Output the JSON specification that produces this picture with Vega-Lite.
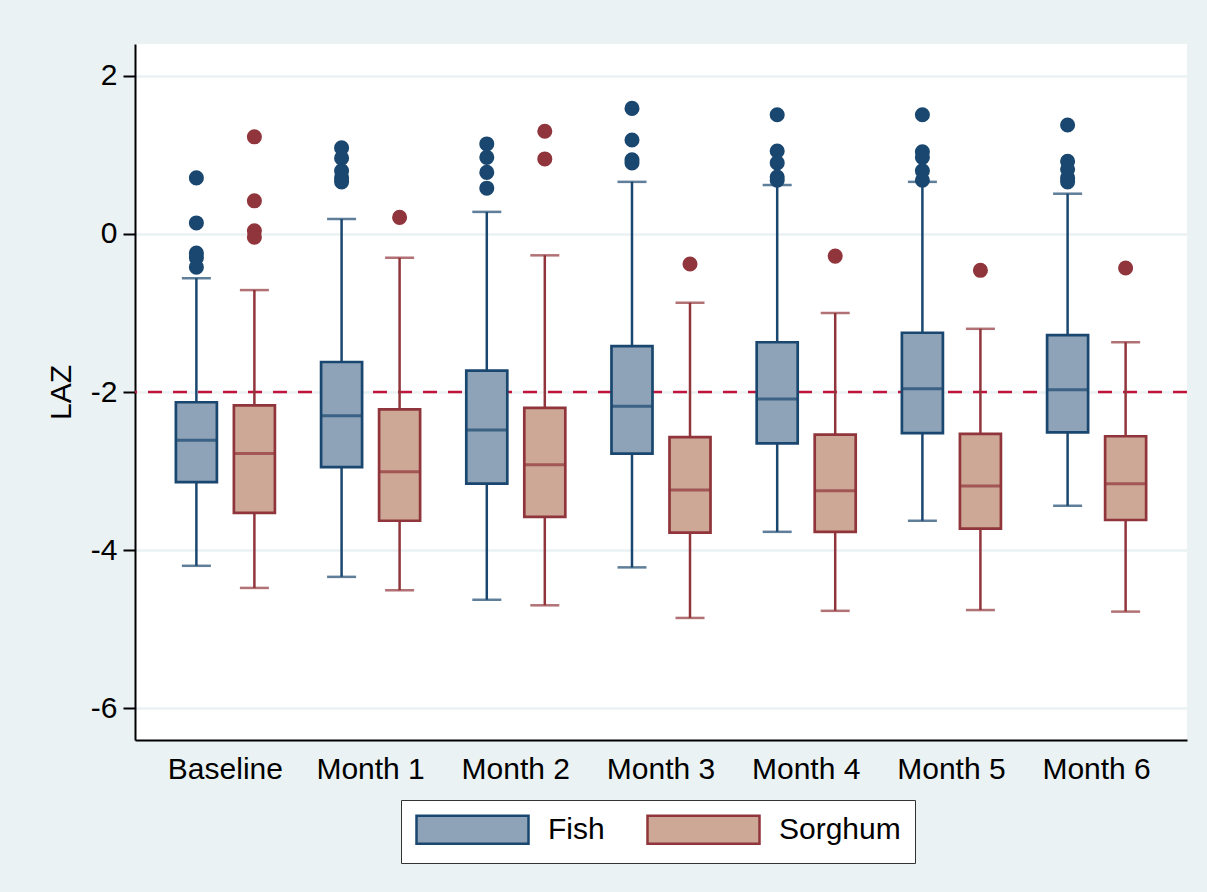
{
  "$schema": "https://vega.github.io/schema/vega-lite/v6.json",
  "width": 1052,
  "height": 696,
  "autosize": {"type": "none"},
  "padding": {"left": 135, "top": 44, "right": 20, "bottom": 152},
  "background": "#EAF2F3",
  "config": {
    "font": "Liberation Sans",
    "view": {"fill": "white", "stroke": null}
  },
  "datasets": {
    "boxes": [
      {"time": "Baseline", "group": "Fish", "lower": -4.20, "q1": -3.14, "median": -2.61, "q3": -2.13, "upper": -0.56},
      {"time": "Baseline", "group": "Sorghum", "lower": -4.48, "q1": -3.53, "median": -2.78, "q3": -2.17, "upper": -0.71},
      {"time": "Month 1", "group": "Fish", "lower": -4.34, "q1": -2.95, "median": -2.30, "q3": -1.62, "upper": 0.19},
      {"time": "Month 1", "group": "Sorghum", "lower": -4.51, "q1": -3.63, "median": -3.01, "q3": -2.22, "upper": -0.30},
      {"time": "Month 2", "group": "Fish", "lower": -4.63, "q1": -3.16, "median": -2.48, "q3": -1.73, "upper": 0.28},
      {"time": "Month 2", "group": "Sorghum", "lower": -4.70, "q1": -3.58, "median": -2.92, "q3": -2.20, "upper": -0.27},
      {"time": "Month 3", "group": "Fish", "lower": -4.22, "q1": -2.78, "median": -2.18, "q3": -1.42, "upper": 0.66},
      {"time": "Month 3", "group": "Sorghum", "lower": -4.86, "q1": -3.78, "median": -3.24, "q3": -2.57, "upper": -0.87},
      {"time": "Month 4", "group": "Fish", "lower": -3.77, "q1": -2.65, "median": -2.09, "q3": -1.37, "upper": 0.62},
      {"time": "Month 4", "group": "Sorghum", "lower": -4.77, "q1": -3.77, "median": -3.25, "q3": -2.54, "upper": -1.00},
      {"time": "Month 5", "group": "Fish", "lower": -3.63, "q1": -2.52, "median": -1.96, "q3": -1.25, "upper": 0.66},
      {"time": "Month 5", "group": "Sorghum", "lower": -4.76, "q1": -3.73, "median": -3.19, "q3": -2.53, "upper": -1.20},
      {"time": "Month 6", "group": "Fish", "lower": -3.44, "q1": -2.51, "median": -1.97, "q3": -1.28, "upper": 0.51},
      {"time": "Month 6", "group": "Sorghum", "lower": -4.78, "q1": -3.62, "median": -3.16, "q3": -2.56, "upper": -1.37}
    ],
    "outliers": [
      {"time": "Baseline", "group": "Fish", "value": 0.71},
      {"time": "Baseline", "group": "Fish", "value": 0.14},
      {"time": "Baseline", "group": "Fish", "value": -0.24},
      {"time": "Baseline", "group": "Fish", "value": -0.30},
      {"time": "Baseline", "group": "Fish", "value": -0.42},
      {"time": "Baseline", "group": "Sorghum", "value": 1.23},
      {"time": "Baseline", "group": "Sorghum", "value": 0.42},
      {"time": "Baseline", "group": "Sorghum", "value": 0.04},
      {"time": "Baseline", "group": "Sorghum", "value": -0.04},
      {"time": "Month 1", "group": "Fish", "value": 1.09},
      {"time": "Month 1", "group": "Fish", "value": 0.96},
      {"time": "Month 1", "group": "Fish", "value": 0.80},
      {"time": "Month 1", "group": "Fish", "value": 0.71},
      {"time": "Month 1", "group": "Fish", "value": 0.66},
      {"time": "Month 1", "group": "Sorghum", "value": 0.21},
      {"time": "Month 2", "group": "Fish", "value": 1.14},
      {"time": "Month 2", "group": "Fish", "value": 0.97},
      {"time": "Month 2", "group": "Fish", "value": 0.78},
      {"time": "Month 2", "group": "Fish", "value": 0.58},
      {"time": "Month 2", "group": "Sorghum", "value": 1.30},
      {"time": "Month 2", "group": "Sorghum", "value": 0.95},
      {"time": "Month 3", "group": "Fish", "value": 1.59},
      {"time": "Month 3", "group": "Fish", "value": 1.19},
      {"time": "Month 3", "group": "Fish", "value": 0.94},
      {"time": "Month 3", "group": "Fish", "value": 0.90},
      {"time": "Month 3", "group": "Sorghum", "value": -0.38},
      {"time": "Month 4", "group": "Fish", "value": 1.51},
      {"time": "Month 4", "group": "Fish", "value": 1.05},
      {"time": "Month 4", "group": "Fish", "value": 0.90},
      {"time": "Month 4", "group": "Fish", "value": 0.72},
      {"time": "Month 4", "group": "Fish", "value": 0.68},
      {"time": "Month 4", "group": "Sorghum", "value": -0.28},
      {"time": "Month 5", "group": "Fish", "value": 1.51},
      {"time": "Month 5", "group": "Fish", "value": 1.04},
      {"time": "Month 5", "group": "Fish", "value": 0.97},
      {"time": "Month 5", "group": "Fish", "value": 0.80},
      {"time": "Month 5", "group": "Fish", "value": 0.68},
      {"time": "Month 5", "group": "Sorghum", "value": -0.46},
      {"time": "Month 6", "group": "Fish", "value": 1.38},
      {"time": "Month 6", "group": "Fish", "value": 0.92},
      {"time": "Month 6", "group": "Fish", "value": 0.82},
      {"time": "Month 6", "group": "Fish", "value": 0.71},
      {"time": "Month 6", "group": "Fish", "value": 0.66},
      {"time": "Month 6", "group": "Sorghum", "value": -0.43}
    ]
  },
  "encoding": {
    "x": {
      "field": "time", "type": "nominal",
      "sort": ["Baseline", "Month 1", "Month 2", "Month 3", "Month 4", "Month 5", "Month 6"],
      "scale": {"paddingInner": 0, "paddingOuter": 0.1225},
      "axis": {
        "title": null, "labelAngle": 0, "ticks": false,
        "domainColor": "black", "domainWidth": 2,
        "labelFontSize": 30, "labelColor": "black", "labelPadding": 14
      }
    },
    "xOffset": {
      "field": "group", "type": "nominal",
      "scale": {"domain": ["Fish", "Sorghum"], "paddingInner": 0.293, "paddingOuter": 0.398}
    }
  },
  "layer": [
    {
      "data": {"values": [{"ref": -2}]},
      "mark": {"type": "rule", "color": "#C0143C", "strokeWidth": 2.5, "strokeDash": [14, 11]},
      "encoding": {
        "x": null, "xOffset": null,
        "y": {
          "field": "ref", "type": "quantitative",
          "scale": {"domain": [-6.405, 2.405], "nice": false, "zero": false},
          "axis": {
            "title": "LAZ", "titleFontSize": 30, "titleFontWeight": "normal", "titleColor": "black", "titlePadding": 14,
            "values": [-6, -4, -2, 0, 2], "labelExpr": "'' + datum.value",
            "labelFontSize": 30, "labelColor": "black", "labelPadding": 6,
            "tickSize": 12, "tickColor": "black", "tickWidth": 2, "domainColor": "black", "domainWidth": 2,
            "grid": true, "gridColor": "#EAF2F3", "gridWidth": 2.5
          }
        }
      }
    },
    {
      "data": {"name": "boxes"},
      "mark": {"type": "rule", "strokeWidth": 2.5},
      "encoding": {
        "y": {"field": "lower", "type": "quantitative"},
        "y2": {"field": "upper"},
        "color": {"field": "group", "type": "nominal", "scale": {"range": ["#1A476F", "#90353B"]}, "legend": null}
      }
    },
    {
      "data": {"name": "boxes"},
      "mark": {"type": "tick", "size": 29, "thickness": 2.5},
      "encoding": {
        "y": {"field": "lower", "type": "quantitative"},
        "color": {"field": "group", "type": "nominal", "legend": null}
      }
    },
    {
      "data": {"name": "boxes"},
      "mark": {"type": "tick", "size": 29, "thickness": 2.5},
      "encoding": {
        "y": {"field": "upper", "type": "quantitative"},
        "color": {"field": "group", "type": "nominal", "legend": null}
      }
    },
    {
      "data": {"name": "boxes"},
      "mark": {"type": "bar", "strokeWidth": 2.7},
      "encoding": {
        "y": {"field": "q1", "type": "quantitative"},
        "y2": {"field": "q3"},
        "fill": {
          "field": "group", "type": "nominal",
          "scale": {"domain": ["Fish", "Sorghum"], "range": ["#8EA3B7", "#CEA896"]},
          "legend": {
            "title": null, "orient": "none", "legendX": 266, "legendY": 756, "direction": "horizontal",
            "fillColor": "white", "strokeColor": "#333333", "padding": 14,
            "labelFontSize": 30, "labelColor": "black", "labelOffset": 102, "columnPadding": 37,
            "symbolType": "M-1,-1H7V1H-1Z", "symbolSize": 784, "symbolStrokeWidth": 2.5,
            "symbolOpacity": 1,
            "encode": {
              "symbols": {"update": {"stroke": {"scale": "stroke", "field": "value"}, "strokeWidth": {"value": 2.5}, "fillOpacity": {"value": 1}}}
            }
          }
        },
        "stroke": {
          "field": "group", "type": "nominal",
          "scale": {"range": ["#1A476F", "#90353B"]},
          "legend": null
        }
      }
    },
    {
      "data": {"name": "boxes"},
      "mark": {"type": "tick", "size": 41, "thickness": 3},
      "encoding": {
        "y": {"field": "median", "type": "quantitative"},
        "color": {"field": "group", "type": "nominal", "legend": null}
      }
    },
    {
      "data": {"name": "outliers"},
      "mark": {"type": "circle", "size": 227, "opacity": 1},
      "encoding": {
        "y": {"field": "value", "type": "quantitative"},
        "color": {"field": "group", "type": "nominal", "legend": null}
      }
    }
  ]
}
